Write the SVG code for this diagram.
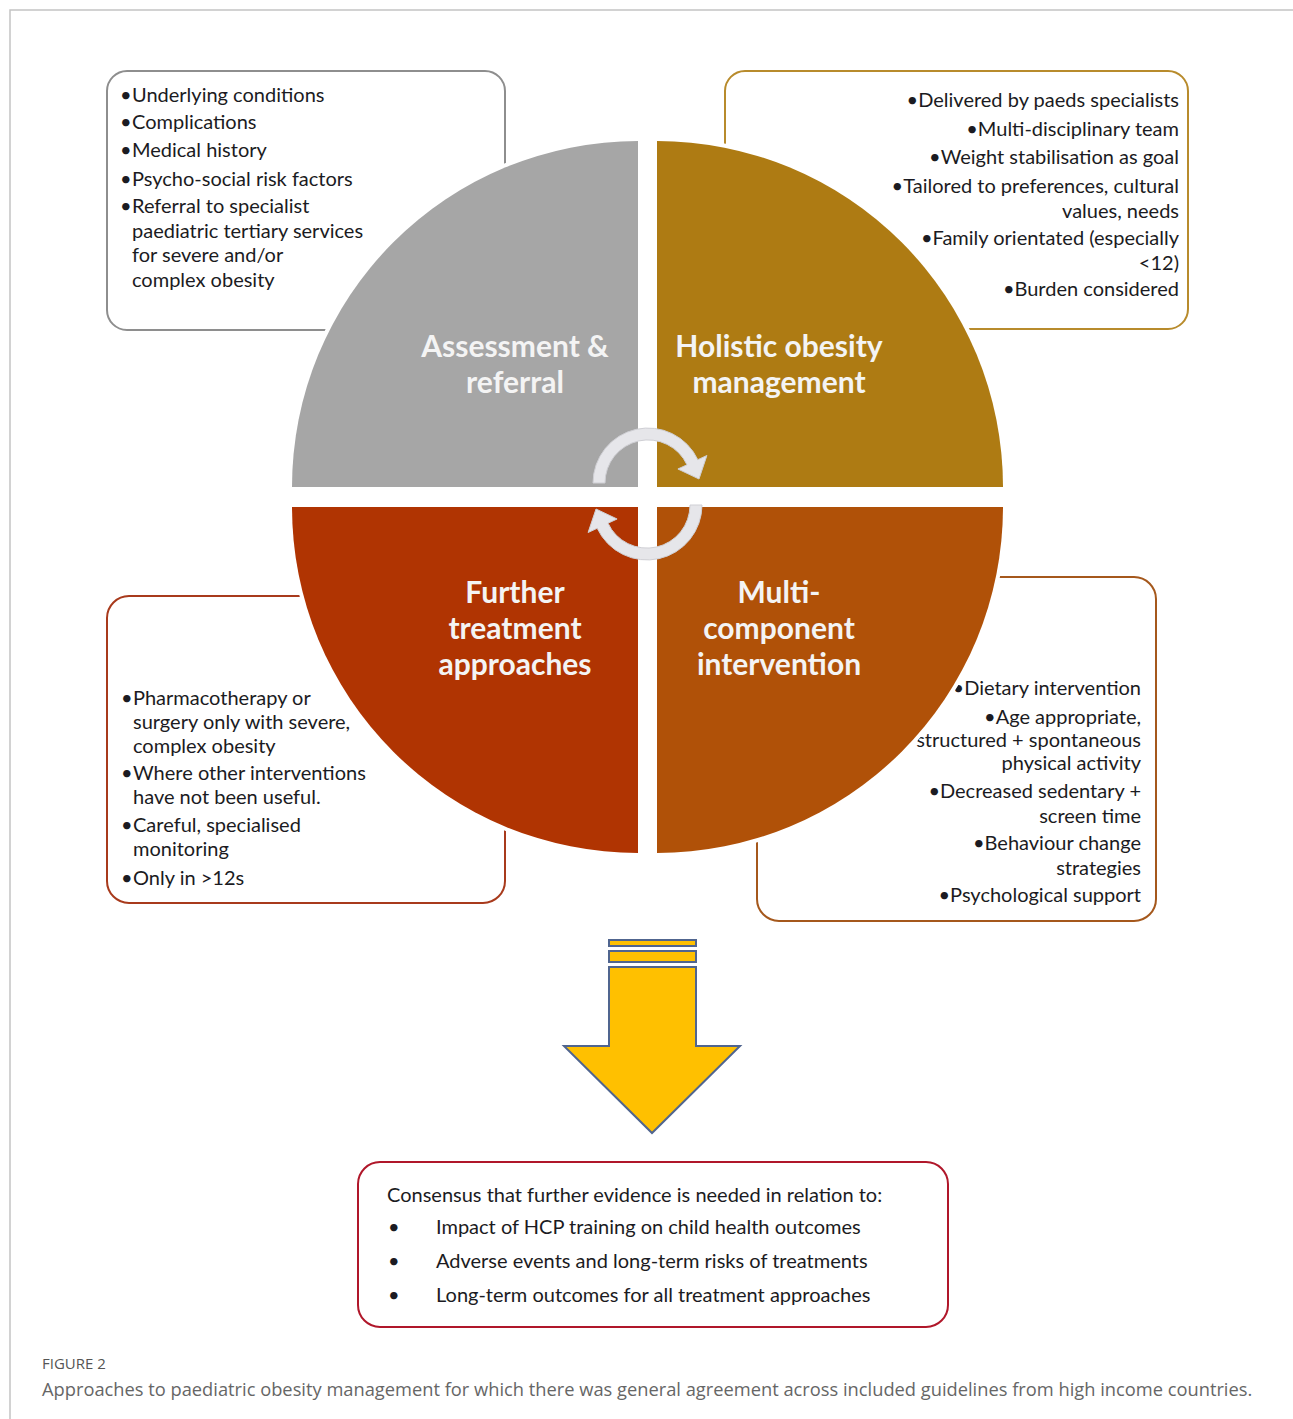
<svg xmlns="http://www.w3.org/2000/svg" width="1293" height="1419" viewBox="0 0 1293 1419">
<style>
.frame{fill:none;stroke:#c4c4c4;stroke-width:1.5}
.box{fill:#fff;stroke-width:2}
.quad{stroke:#fff;stroke-width:8;paint-order:stroke}
.lbl{font-family:Lato,"Open Sans",sans-serif;font-weight:bold;font-size:30px;fill:#f4f4f4;text-anchor:middle}
.t{font-family:Lato,"Open Sans",sans-serif;font-size:20px;fill:#1b1b22}
.r{text-anchor:end}
.cyc{fill:#e6e6ea;stroke:#cfcfd4;stroke-width:1}
.arrow{fill:#ffc000;stroke:#50658f;stroke-width:2;stroke-linejoin:miter}
.cap1{font-family:"Open Sans",Lato,sans-serif;font-size:15px;fill:#555}
.cap2{font-family:"Open Sans",Lato,sans-serif;font-size:18.3px;fill:#666}
</style>
<path class="frame" d="M10,1419 L10,10 L1293,10"/>

<g id="box-assessment">
<rect class="box" x="107" y="71" width="398" height="259" rx="20" stroke="#8e8e8e"/>
<text class="t" x="120" y="102">•</text><text class="t" x="132" y="102">Underlying conditions</text>
<text class="t" x="120" y="129">•</text><text class="t" x="132" y="129">Complications</text>
<text class="t" x="120" y="157">•</text><text class="t" x="132" y="157">Medical history</text>
<text class="t" x="120" y="186">•</text><text class="t" x="132" y="186">Psycho-social risk factors</text>
<text class="t" x="120" y="213">•</text><text class="t" x="132" y="213">Referral to specialist</text>
<text class="t" x="132" y="238">paediatric tertiary services</text>
<text class="t" x="132" y="262">for severe and/or</text>
<text class="t" x="132" y="287">complex obesity</text>
</g>

<g id="box-holistic">
<rect class="box" x="725" y="71" width="463" height="258" rx="20" stroke="#b88b2c"/>
<text class="t r" x="1179" y="107">•Delivered by paeds specialists</text>
<text class="t r" x="1179" y="136">•Multi-disciplinary team</text>
<text class="t r" x="1179" y="164">•Weight stabilisation as goal</text>
<text class="t r" x="1179" y="193">•Tailored to preferences, cultural</text>
<text class="t r" x="1179" y="218">values, needs</text>
<text class="t r" x="1179" y="245">•Family orientated (especially</text>
<text class="t r" x="1179" y="270">&lt;12)</text>
<text class="t r" x="1179" y="296">•Burden considered</text>
</g>

<g id="box-further">
<rect class="box" x="107" y="596" width="398" height="307" rx="22" stroke="#a83a1c"/>
<text class="t" x="121" y="705">•</text><text class="t" x="133" y="705">Pharmacotherapy or</text>
<text class="t" x="133" y="729">surgery only with severe,</text>
<text class="t" x="133" y="753">complex obesity</text>
<text class="t" x="121" y="780">•</text><text class="t" x="133" y="780">Where other interventions</text>
<text class="t" x="133" y="804">have not been useful.</text>
<text class="t" x="121" y="832">•</text><text class="t" x="133" y="832">Careful, specialised</text>
<text class="t" x="133" y="856">monitoring</text>
<text class="t" x="121" y="885">•</text><text class="t" x="133" y="885">Only in &gt;12s</text>
</g>

<g id="box-multi">
<rect class="box" x="757" y="577" width="399" height="344" rx="22" stroke="#a5581c"/>
<text class="t r" x="1141" y="695">•Dietary intervention</text>
<text class="t r" x="1141" y="724">•Age appropriate,</text>
<text class="t r" x="1141" y="747">structured + spontaneous</text>
<text class="t r" x="1141" y="770">physical activity</text>
<text class="t r" x="1141" y="798">•Decreased sedentary +</text>
<text class="t r" x="1141" y="823">screen time</text>
<text class="t r" x="1141" y="850">•Behaviour change</text>
<text class="t r" x="1141" y="875">strategies</text>
<text class="t r" x="1141" y="902">•Psychological support</text>
</g>

<g id="quad-assessment">
<path class="quad" fill="#a6a6a6" d="M638,487 L292,487 A346,346 0 0 1 638,141 Z"/>
<text class="lbl" x="515" y="357">Assessment &amp;</text>
<text class="lbl" x="515" y="393">referral</text>
</g>
<g id="quad-holistic">
<path class="quad" fill="#ae7b13" d="M657,487 L657,141 A346,346 0 0 1 1003,487 Z"/>
<text class="lbl" x="779" y="357">Holistic obesity</text>
<text class="lbl" x="779" y="393">management</text>
</g>
<g id="quad-multi">
<path class="quad" fill="#b05108" d="M657,507 L1003,507 A346,346 0 0 1 657,853 Z"/>
<text class="lbl" x="779" y="603">Multi-</text>
<text class="lbl" x="779" y="639">component</text>
<text class="lbl" x="779" y="675">intervention</text>
</g>
<g id="quad-further">
<path class="quad" fill="#b03402" d="M638,507 L638,853 A346,346 0 0 1 292,507 Z"/>
<text class="lbl" x="515" y="603">Further</text>
<text class="lbl" x="515" y="639">treatment</text>
<text class="lbl" x="515" y="675">approaches</text>
</g>

<g id="connectors">
<path class="cyc" d="M605,483 L593,483 A55,55 0 0 1 697.8,459.7 L706.9,455.5 L699,479 L677.9,469 L687,464.8 A43,43 0 0 0 605,483 Z"/>
<path class="cyc" d="M690,505 L702,505 A55,55 0 0 1 597.2,528.3 L588.1,532.5 L596,509 L617.1,519 L608,523.2 A43,43 0 0 0 690,505 Z"/>
<g id="down-arrow">
<rect class="arrow" x="609" y="940" width="87" height="6"/>
<rect class="arrow" x="609" y="951" width="87" height="11"/>
<path class="arrow" d="M609,967 L696,967 L696,1046 L740,1046 L652,1133 L564,1046 L609,1046 Z"/>
</g>
</g>

<g id="box-evidence">
<rect class="box" x="358" y="1162" width="590" height="165" rx="22" stroke="#b0172a"/>
<text class="t" x="387" y="1202">Consensus that further evidence is needed in relation to:</text>
<text class="t" x="388" y="1234">•</text><text class="t" x="436" y="1234">Impact of HCP training on child health outcomes</text>
<text class="t" x="388" y="1268">•</text><text class="t" x="436" y="1268">Adverse events and long-term risks of treatments</text>
<text class="t" x="388" y="1302">•</text><text class="t" x="436" y="1302">Long-term outcomes for all treatment approaches</text>
</g>

<text class="cap1" x="42" y="1369">FIGURE 2</text>
<text class="cap2" x="42" y="1396">Approaches to paediatric obesity management for which there was general agreement across included guidelines from high income countries.</text>
</svg>
